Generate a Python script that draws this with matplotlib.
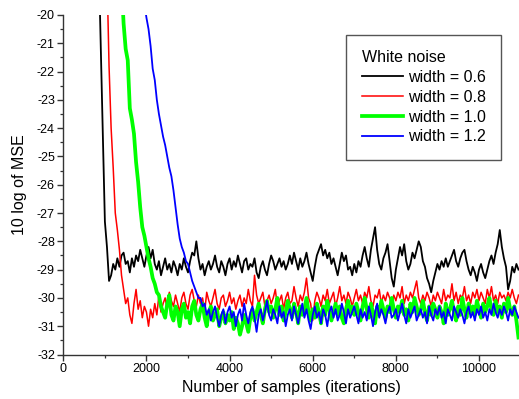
import numpy as np
import matplotlib.pyplot as plt
from matplotlib.ticker import MultipleLocator

plt.rcParams['font.family'] = ['Liberation Sans', 'DejaVu Sans']

# sample spacing of the stored curves
step = 50

# width = 0.6, first point at 850 samples
black_start = 850
black_mse = [
    -17.9, -21.1, -24.2,
    -27.3, -28.2, -29.4, -29.2, -28.8, -29.0, -28.6, -28.9, -28.5, -28.4, -28.8, -28.7, -29.1, -28.6, -28.9, -28.5, -28.7, -28.3, -28.6, -28.9,
    -28.5, -28.2, -28.6, -28.3, -28.8, -29.0, -28.7, -29.2, -28.9, -28.6, -29.0, -28.8, -29.1, -28.7, -28.9, -29.2, -28.8, -29.0, -28.6, -28.9,
    -29.1, -28.7, -28.4, -28.5, -28.0, -28.6, -29.0, -28.8, -29.2, -28.9, -28.7, -29.0, -28.8, -28.5, -28.9, -29.1, -28.7, -28.9, -29.2, -28.8,
    -28.6, -29.0, -28.7, -28.9, -28.5, -28.8, -29.1, -28.7, -28.6, -29.0, -28.8, -28.9, -28.6, -29.1, -29.3, -28.9, -28.7, -29.0, -29.2, -28.8,
    -28.5, -28.7, -29.0, -28.8, -28.6, -28.9, -28.7, -29.0, -28.8, -28.5, -28.8, -28.4, -28.7, -29.0, -28.6, -28.9, -28.7, -28.4, -28.8, -29.1,
    -29.4, -28.9, -28.5, -28.3, -28.1, -28.5, -28.3, -28.6, -28.4, -28.8, -28.6, -28.9, -29.2, -28.8, -28.4, -28.7, -28.5, -29.0, -28.9, -29.2,
    -28.8, -29.1, -28.7, -28.9, -28.5, -28.2, -28.6, -28.9, -28.3, -27.9, -27.5, -28.3, -28.8, -29.0, -28.6, -28.4, -28.1, -28.7, -29.3, -29.6,
    -29.0, -28.6, -28.2, -28.5, -28.1, -28.7, -29.0, -28.8, -28.4, -28.6, -28.3, -28.0, -28.2, -28.7, -28.9, -29.3, -29.5, -29.8, -29.4, -29.1,
    -28.8, -29.0, -28.7, -28.9, -28.6, -28.9, -28.7, -28.5, -28.3, -28.7, -28.9, -28.6, -28.4, -28.3, -28.7, -29.0, -29.2, -28.9, -29.1, -29.4,
    -29.0, -28.8, -29.1, -29.3, -29.0, -28.7, -28.5, -28.8, -28.4, -28.1, -27.6, -28.2, -28.6, -28.9, -29.7, -29.4, -28.9, -29.1, -28.8, -29.0,
]

# width = 0.8
red_start = 1050
red_mse = [
    -18.5, -21.8, -24.0, -25.4, -27.0, -27.6, -28.3, -29.2, -29.7, -30.2, -30.0, -30.6, -30.9, -30.2, -29.7, -30.4, -30.1, -30.7, -30.3,
    -30.5, -31.0, -30.4, -30.7, -30.2, -30.6, -29.9, -30.5, -30.2, -30.0, -30.4, -29.8, -30.1, -30.3, -29.9, -30.2, -30.5, -30.0, -29.8, -30.2,
    -30.4, -29.9, -29.7, -30.1, -30.3, -29.9, -30.2, -30.0, -30.5, -29.8, -30.1, -30.3, -30.0, -29.7, -30.2, -30.4, -30.0, -29.9, -30.3, -30.1,
    -29.8, -30.2, -30.0, -30.4, -30.1, -29.9, -30.3, -30.0, -30.2, -29.7, -30.1, -30.3, -29.2, -29.9, -30.2, -30.0, -29.8, -30.3, -30.1, -29.9,
    -30.2, -30.0, -29.7, -30.3, -30.1, -29.9, -30.4, -30.0, -29.8, -30.2, -30.1, -29.6, -30.0, -30.3, -29.9, -30.1, -29.8, -29.3, -30.0, -30.2,
    -30.8, -30.1, -29.8, -30.0, -30.3, -29.9, -30.1, -29.7, -30.2, -30.0, -29.8, -30.3, -30.0, -29.6, -30.1, -29.9, -30.2, -29.8, -30.0, -30.3,
    -30.0, -29.7, -30.1, -29.9, -30.2, -29.8, -30.0, -29.6, -30.1, -30.3, -29.9, -30.0, -29.7, -30.2, -29.9, -30.1, -29.8, -30.0, -30.3, -29.9,
    -30.1, -29.8, -30.0, -29.6, -30.2, -29.9, -30.1, -29.8, -30.0, -29.7, -29.4, -30.0, -30.2, -29.9, -30.1, -29.8, -30.0, -30.3, -29.9, -30.1,
    -29.8, -30.0, -30.2, -29.7, -30.1, -29.9, -30.0, -29.5, -30.1, -29.8, -30.2, -29.9, -30.0, -29.6, -30.1, -29.9, -30.2, -29.8, -30.0, -29.7,
    -30.1, -29.8, -30.0, -30.2, -29.7, -30.0, -29.6, -30.1, -29.9, -30.2, -29.8, -30.0, -29.9, -30.1, -29.8, -30.0, -29.7, -30.0, -30.2, -29.9,
]

# width = 1.0
green_start = 1400
green_mse = [
    -18.8, -20.3, -21.2, -21.6, -23.3, -23.7, -24.2, -25.2, -25.9, -26.8, -27.5, -27.8,
    -28.2, -28.6, -28.9, -29.3, -29.5, -29.8, -29.9, -30.3, -30.5, -30.7, -30.2, -29.9, -30.6, -30.8, -30.3, -30.5, -31.0, -30.4, -30.2, -30.7,
    -30.5, -30.9, -30.3, -30.1, -30.6, -30.8, -30.4, -30.2, -30.7, -31.0, -30.5, -30.3, -30.8, -30.6, -30.4, -31.0, -30.7, -30.5, -30.9, -30.6,
    -30.8, -30.5, -31.1, -30.7, -30.9, -31.3, -31.0, -30.6, -30.9, -31.2, -30.7, -30.4, -30.8, -30.5, -30.2, -30.6, -30.9, -30.4, -30.1, -30.5,
    -30.3, -30.7, -30.4, -30.0, -30.6, -30.3, -30.8, -30.5, -30.1, -30.4, -30.7, -30.2, -30.5, -30.9, -30.3, -30.6, -30.4, -30.0, -30.5, -30.8,
    -30.4, -30.7, -30.2, -30.5, -30.9, -30.3, -30.6, -30.1, -30.4, -30.8, -30.5, -30.2, -30.6, -30.3, -30.7, -30.9, -30.4, -30.1, -30.5, -30.3,
    -30.6, -30.2, -30.5, -30.8, -30.3, -30.0, -30.4, -30.7, -30.2, -30.5, -30.9, -30.3, -30.6, -30.1, -30.4, -30.7, -30.3, -30.5, -30.0, -30.4,
    -30.7, -30.3, -30.5, -30.1, -30.6, -30.4, -30.8, -30.2, -30.5, -30.0, -30.3, -30.6, -30.4, -30.1, -30.5, -30.8, -30.3, -30.6, -30.2, -30.4,
    -30.7, -30.3, -30.5, -30.9, -30.2, -30.6, -30.4, -30.1, -30.5, -30.8, -30.3, -30.6, -30.0, -30.4, -30.7, -30.2, -30.5, -30.3, -30.6, -30.1,
    -30.4, -30.7, -30.2, -30.5, -30.3, -30.0, -30.4, -30.6, -30.1, -30.5, -30.3, -30.7, -30.2, -30.5, -30.0, -30.4, -30.6, -30.3, -30.8, -31.4,
]

# width = 1.2
blue_start = 1950
blue_mse = [
    -19.6,
    -20.1, -20.5, -21.1, -21.9, -22.3, -23.0, -23.5, -23.9, -24.3, -24.6, -25.0, -25.4, -25.7, -26.2, -26.8, -27.4, -27.9, -28.2, -28.4, -28.7,
    -28.8, -29.1, -29.4, -29.6, -29.8, -30.0, -30.0, -30.3, -30.2, -30.6, -30.4, -30.8, -30.5, -30.3, -30.7, -31.0, -30.6, -30.4, -30.9, -30.5,
    -30.3, -30.7, -30.5, -31.0, -30.6, -30.4, -30.8, -30.2, -30.6, -30.9, -30.5, -30.3, -30.7, -31.2, -30.6, -30.4, -30.8, -30.5, -30.1, -30.6,
    -30.8, -30.4, -30.6, -30.9, -30.3, -30.7, -30.5, -31.0, -30.6, -30.4, -30.8, -30.3, -30.6, -30.9, -30.5, -30.2, -30.7, -30.4, -30.8, -31.1,
    -30.6, -30.3, -30.7, -30.5, -30.9, -30.4, -30.6, -31.0, -30.5, -30.3, -30.7, -30.4, -30.8, -30.6, -30.2, -30.5, -30.9, -30.4, -30.7, -30.5,
    -30.3, -30.6, -30.9, -30.4, -30.7, -30.5, -30.8, -30.3, -30.6, -31.0, -30.5, -30.2, -30.7, -30.4, -30.6, -30.9, -30.5, -30.3, -30.7, -30.6,
    -30.4, -30.8, -30.5, -30.2, -30.6, -30.9, -30.4, -30.7, -30.5, -30.3, -30.8, -30.6, -30.4, -30.7, -30.5, -30.9, -30.3, -30.6, -30.8, -30.4,
    -30.6, -30.3, -30.7, -30.5, -30.9, -30.4, -30.6, -30.8, -30.3, -30.5, -30.7, -30.4, -30.6, -30.9, -30.5, -30.3, -30.7, -30.5, -30.8, -30.4,
    -30.6, -30.3, -30.7, -30.5, -30.8, -30.4, -30.6, -30.2, -30.5, -30.7, -30.4, -30.6, -30.3, -30.5, -30.8, -30.4, -30.6, -30.3, -30.5, -30.7,
]

series = [
    ("width = 0.6", black_start, black_mse, "black", 1.3),
    ("width = 0.8", red_start, red_mse, "#ff0000", 1.1),
    ("width = 1.0", green_start, green_mse, "#00ff00", 2.7),
    ("width = 1.2", blue_start, blue_mse, "#0000ff", 1.3),
]

fig = plt.figure(figsize=(5.19, 3.99), dpi=100)
ax = fig.add_axes([0.122, 0.1115, 0.881, 0.851])

for label, start, vals, color, lw in series:
    x = start + step * np.arange(len(vals))
    ax.plot(x, vals, color=color, lw=lw, label=label)

ax.set_xlim(0, 11000)
ax.set_ylim(-32, -20)
ax.xaxis.set_major_locator(MultipleLocator(2000))
ax.xaxis.set_minor_locator(MultipleLocator(1000))
ax.yaxis.set_major_locator(MultipleLocator(1))
ax.yaxis.set_minor_locator(MultipleLocator(0.5))
ax.yaxis.set_major_formatter(plt.FuncFormatter(lambda v, p: "%d" % v))

for s in ("top", "right"):
    ax.spines[s].set_visible(False)
for s in ("left", "bottom"):
    ax.spines[s].set_color("#333333")
    ax.spines[s].set_linewidth(1.0)

ax.tick_params(which="major", direction="out", length=4, width=1.0, color="#333333", labelsize=9, pad=2)
ax.tick_params(which="minor", direction="out", length=2.2, width=0.9, color="#333333")

ax.set_xlabel("Number of samples (iterations)", fontsize=11.5, labelpad=4)
ax.set_ylabel("10 log of MSE", fontsize=11.5, labelpad=7)

leg = ax.legend(title="White noise", loc="upper right",
                bbox_to_anchor=(501 / 519, 1 - 35 / 399), bbox_transform=fig.transFigure,
                fontsize=11.5, title_fontsize=11.5, frameon=True, fancybox=False,
                handlelength=2.6, handletextpad=0.3, labelspacing=0.3,
                borderpad=0.95, borderaxespad=0, alignment="left")
leg.get_frame().set_edgecolor("#555555")
leg.get_frame().set_linewidth(1.0)
leg.get_frame().set_alpha(1)

fig.savefig("out.png", dpi=100)
